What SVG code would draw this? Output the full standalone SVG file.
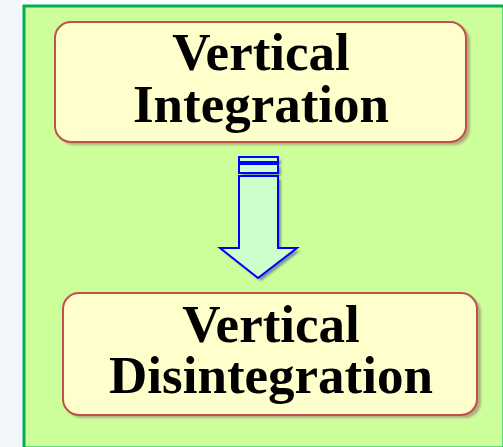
<svg xmlns="http://www.w3.org/2000/svg" width="503" height="447" viewBox="0 0 503 447">
<defs>
<linearGradient id="bg" x1="0" y1="0" x2="1" y2="0">
<stop offset="0" stop-color="#f4f7fb"/>
<stop offset="0.6" stop-color="#e4ebf5"/>
<stop offset="1" stop-color="#f2f5fa"/>
</linearGradient>
<filter id="blur" x="-10%" y="-10%" width="120%" height="120%"><feGaussianBlur stdDeviation="1"/></filter>
</defs>
<style>
.box{fill:#ffffcc;stroke:#c0504d;stroke-width:2}
.shadow{fill:#a89c78;opacity:0.8}
.lbl{font-family:"Liberation Serif","Times New Roman",serif;font-weight:bold;font-size:53px;fill:#000;text-anchor:middle}
.arr{fill:#ccffcc;stroke:#0000ff;stroke-width:2;stroke-linejoin:miter}
.arrsh{fill:#5a6c9a;opacity:0.7}
</style>
<rect x="0" y="0" width="503" height="447" fill="url(#bg)"/>
<rect x="20" y="0" width="483" height="6" fill="#ffffff"/>
<rect x="24" y="6" width="480" height="442" fill="#ccff99" stroke="#00b050" stroke-width="3"/>
<g id="node-integration">
<rect class="shadow" x="58" y="25" width="412" height="120" rx="16" filter="url(#blur)"/>
<rect class="box" x="55" y="22" width="411" height="120" rx="16"/>
<text class="lbl"><tspan x="261" y="70">Vertical</tspan><tspan x="261" y="122">Integration</tspan></text>
</g>
<g id="connectors">
<g filter="url(#blur)" class="arrsh">
<rect x="242" y="160" width="39" height="5"/>
<rect x="242" y="167" width="39" height="9"/>
<path d="M242 179 H281 V251 H300 L261 281 L223 251 H242 Z"/>
</g>
<rect class="arr" x="239" y="157" width="39" height="5"/>
<rect class="arr" x="239" y="164" width="39" height="9"/>
<path class="arr" d="M239 176 H278 V248 H297 L258 278 L220 248 H239 Z"/>
</g>
<g id="node-disintegration">
<rect class="shadow" x="66" y="296" width="415" height="122" rx="16" filter="url(#blur)"/>
<rect class="box" x="63" y="293" width="414" height="122" rx="16"/>
<text class="lbl"><tspan x="271" y="342">Vertical</tspan><tspan x="271" y="393">Disintegration</tspan></text>
</g>
</svg>
